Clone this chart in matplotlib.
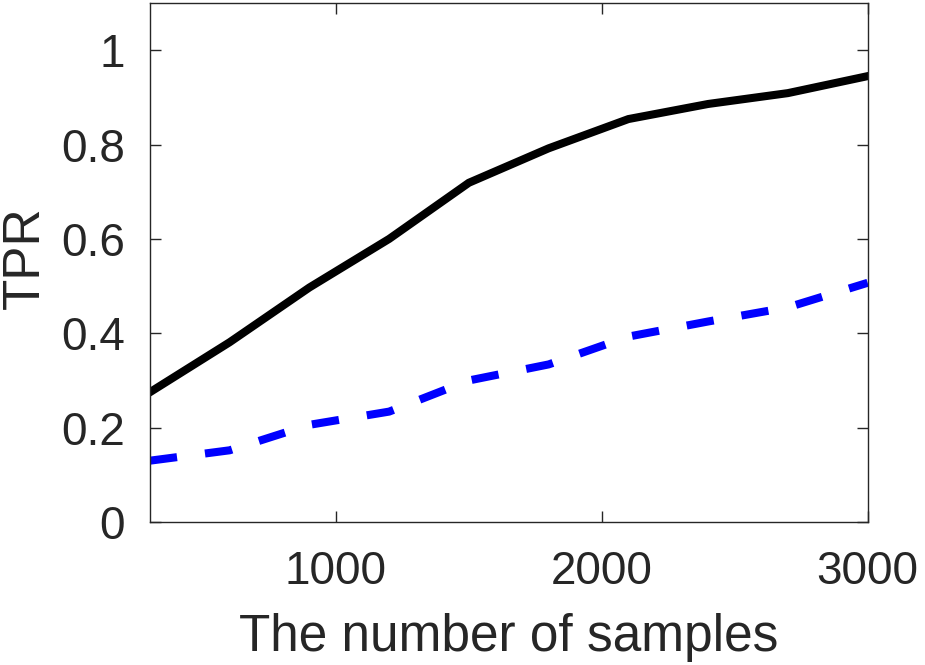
import matplotlib
matplotlib.use("Agg")
import matplotlib.pyplot as plt

plt.rcParams['font.family'] = ['Liberation Sans', 'DejaVu Sans']

samples = [300, 600, 900, 1200, 1500, 1800, 2100, 2400, 2700, 3000]
tpr_solid = [0.275, 0.381, 0.497, 0.600, 0.719, 0.792, 0.854, 0.886, 0.909, 0.945]
tpr_dashed = [0.130, 0.152, 0.206, 0.234, 0.300, 0.334, 0.393, 0.425, 0.455, 0.507]

xticks = [1000, 2000, 3000]
yticks = [0, 0.2, 0.4, 0.6, 0.8, 1]
ytick_labels = ['0', '0.2', '0.4', '0.6', '0.8', '1']

text_col = '#262626'
axis_col = '#262626'

fig = plt.figure(figsize=(9.25, 6.65), dpi=100)
ax = fig.add_axes([0.162, 0.215, 0.776, 0.7805])

ax.plot(samples, tpr_solid, color='black', linewidth=5.8, solid_joinstyle='miter')
ax.plot(samples, tpr_dashed, color='#0000ff', linewidth=5.8,
        linestyle=(0, (3.4, 3.5)), dash_capstyle='butt')

ax.set_xlim(300, 3000)
ax.set_ylim(0, 1.1)
ax.set_xticks(xticks)
ax.set_xticklabels([str(t) for t in xticks])
ax.set_yticks(yticks)
ax.set_yticklabels(ytick_labels)

for s in ax.spines.values():
    s.set_color(axis_col)
    s.set_linewidth(1.0)

ax.tick_params(direction='in', length=8, width=1.0, colors=axis_col,
               top=True, right=True, labelsize=33, labelcolor=text_col)
ax.tick_params(axis='x', pad=20)
ax.tick_params(axis='y', pad=18)

ax.set_xlabel('The number of samples', fontsize=37, color=text_col, labelpad=14)
ax.set_ylabel('TPR', fontsize=37, color=text_col)
# label anchor is the descent line of the rotated text
ax.yaxis.set_label_coords(-0.139, 0.51)

fig.savefig('out.png', dpi=100)
